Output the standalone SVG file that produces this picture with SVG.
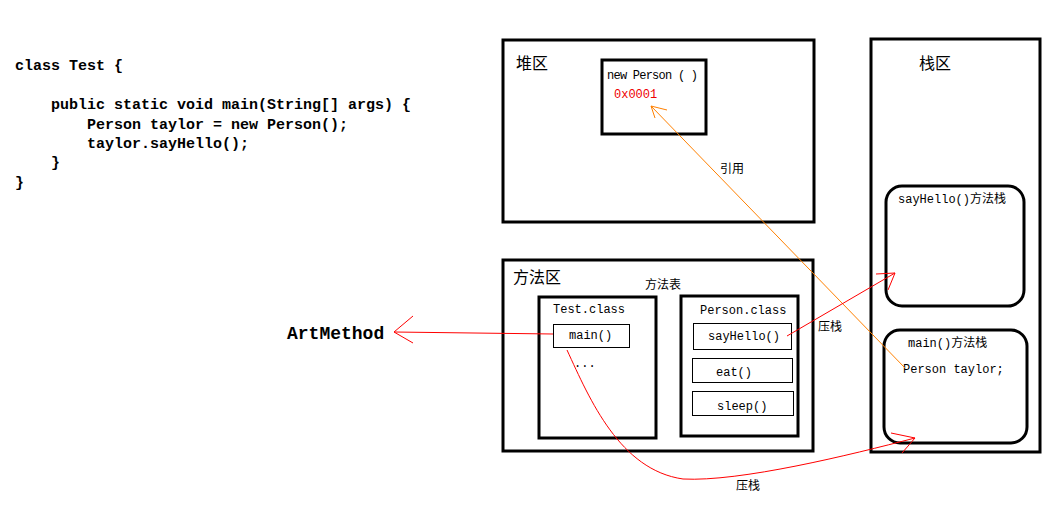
<svg xmlns="http://www.w3.org/2000/svg" width="1060" height="512" viewBox="0 0 1060 512">
<style>
.code{font-family:"Liberation Mono","DejaVu Sans Mono",monospace;font-size:15px;font-weight:bold;fill:#000}
.mono{font-family:"Liberation Mono","Noto Sans CJK SC",monospace;font-size:12px;fill:#000}
.cjk{font-family:"Noto Sans CJK SC",sans-serif;fill:#000}
.big{stroke:#000;stroke-width:3;fill:none}
.thin{stroke:#000;stroke-width:1;fill:none}
.red{stroke:#ff0000;stroke-width:1;fill:none}
.orange{stroke:#ff8000;stroke-width:1;fill:none}
</style>
<rect width="1060" height="512" fill="#fff"/>
<g id="code">
<text class="code" x="15" y="70">class Test {</text>
<text class="code" x="51" y="109">public static void main(String[] args) {</text>
<text class="code" x="87" y="129">Person taylor = new Person();</text>
<text class="code" x="87" y="148">taylor.sayHello();</text>
<text class="code" x="51" y="167">}</text>
<text class="code" x="15" y="187">}</text>
</g>
<g id="artmethod">
<text x="287" y="339" style="font-family:'Liberation Mono',monospace;font-size:18px;font-weight:bold">ArtMethod</text>
</g>
<g id="heap">
<rect class="big" x="503" y="40" width="311" height="182"/>
<text class="cjk" x="516" y="69" font-size="16">堆区</text>
</g>
<g id="newPerson">
<rect class="big" x="602" y="60" width="104" height="74"/>
<text class="mono" x="607" y="79" font-size="11" textLength="91" lengthAdjust="spacing">new Person ( )</text>
<text class="mono" x="614" y="98" font-size="11.5" style="fill:#ee0000">0x0001</text>
</g>
<g id="stack">
<rect class="big" x="871" y="39" width="169" height="413"/>
<text class="cjk" x="919" y="69" font-size="16">栈区</text>
</g>
<g id="sayHelloStack">
<rect class="big" x="886" y="186" width="138" height="120" rx="16"/>
<text class="mono" x="898" y="203">sayHello()方法栈</text>
</g>
<g id="mainStack">
<rect class="big" x="884" y="330" width="143" height="113" rx="16"/>
<text class="mono" x="908" y="347">main()方法栈</text>
<text class="mono" x="903" y="373">Person taylor;</text>
</g>
<g id="methodArea">
<rect class="big" x="503" y="260" width="310" height="191"/>
<text class="cjk" x="513" y="283" font-size="16">方法区</text>
<text class="cjk" x="645" y="289" font-size="12">方法表</text>
</g>
<g id="testClass">
<rect class="big" x="539" y="297" width="117" height="141"/>
<text class="mono" x="553" y="313">Test.class</text>
<text class="mono" x="574" y="367">...</text>
</g>
<g id="mainMethod">
<rect class="thin" x="553.5" y="324.5" width="76" height="23"/>
<text class="mono" x="569" y="339">main()</text>
</g>
<g id="personClass">
<rect class="big" x="681" y="296" width="117" height="140"/>
<text class="mono" x="700" y="314">Person.class</text>
</g>
<g id="sayHelloMethod">
<rect class="thin" x="693.5" y="323.5" width="98" height="26"/>
<text class="mono" x="708" y="340">sayHello()</text>
</g>
<g id="eatMethod">
<rect class="thin" x="692.5" y="358.5" width="100" height="24"/>
<text class="mono" x="716" y="376">eat()</text>
</g>
<g id="sleepMethod">
<rect class="thin" x="692.5" y="391.5" width="101" height="24"/>
<text class="mono" x="717" y="410">sleep()</text>
</g>
<g id="connectors">
<path class="orange" d="M905 368 L651 106 M651 106 L667 110 M651 106 L655 118"/>
<text class="cjk" x="720" y="173" font-size="12">引用</text>
<path class="red" d="M553 334 L394 332 M394 332 L413 316 M394 332 L413 343"/>
<path class="red" d="M787 336 L895 273 M895 273 L876 274 M895 273 L888 290"/>
<text class="cjk" x="818" y="331" font-size="12">压栈</text>
<path class="red" d="M567 350 C590 400 620 470 683 479 C740 482 850 455 915 438 M915 438 L891 433 M915 438 L902 453"/>
<text class="cjk" x="736" y="490" font-size="12">压栈</text>
</g>
</svg>
